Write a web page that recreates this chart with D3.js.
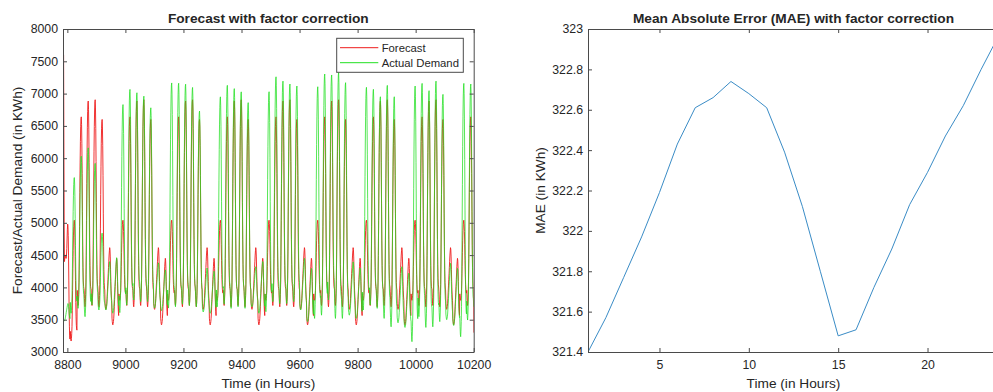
<!DOCTYPE html>
<html><head><meta charset="utf-8">
<script src="https://cdn.jsdelivr.net/npm/d3@7"></script>
<style>
body{margin:0;background:#fff}
svg{display:block}
text{font-family:"Liberation Sans",Arial,Helvetica,sans-serif;fill:#262626}
</style>
</head><body>
<svg id="c" width="993" height="392"></svg>
<script>
// ---------- DATA ----------
const startHour = 8785, endHour = 10200;
// day index k counts 24-hour days from hour 8784; k % 7 === 0 is a Sunday
const actualPeak = [3750,5700,6030,6160,5920,4840,4400,
  4460,6830,7065,7013,6960,6780,4380,
  4270,7165,7160,7145,7095,6730,4300,
  4250,6950,7128,7077,7027,6860,4320,
  4400,7029,7260,7193,7148,7117,4450,
  4295,7106,7303,7288,7324,7169,4395,
  4300,7097,7066,6951,7127,6951,4320,
  4220,7117,7158,7045,7193,6988,4373,
  4295,7158,7148,3700];
const actualLow = [3480,3600,3676,3547,3727,3650,3650,
  3600,3610,3727,3805,3780,3780,3680,
  3640,3680,3700,3740,3720,3700,3620,
  3600,3700,3740,3675,3700,3676,3700,
  3600,3624,3780,3750,3750,3780,3650,
  3470,3520,3570,3805,3520,3520,3570,
  3520,3650,3727,3676,3520,3390,3452,
  3380,3160,3547,3380,3390,3470,3500,
  3410,3237,3495,3700];
const forecastPeak = [4980,5040,6640,6885,6905,6600,4615,
  4450,5040,6640,6885,6905,6600,4615,
  4450,5040,6640,6885,6905,6600,4615,
  4450,5040,6640,6885,6905,6600,4615,
  4450,5040,6640,6885,6905,6600,4615,
  4450,5040,6640,6885,6905,6600,4615,
  4450,5040,6640,6885,6905,6600,4615,
  4450,5040,6640,6885,6905,6600,4615,
  4450,5040,6640,3300];
const forecastLow = [3200,3170,3720,3700,3720,3700,3660,
  3420,3800,3720,3700,3720,3700,3660,
  3420,3800,3720,3700,3720,3700,3660,
  3420,3800,3720,3700,3720,3700,3660,
  3420,3800,3720,3700,3720,3700,3660,
  3420,3800,3720,3700,3720,3700,3660,
  3420,3800,3720,3700,3720,3700,3660,
  3420,3800,3720,3700,3720,3700,3660,
  3420,3800,3720,3300];
// forecast for the first (partial) day, hours 8785..8807
const forecastFirstDay = [7600,6300,5000,4400,4450,4500,4500,4480,4450,4450,4500,4600,
  4750,4900,4980,4950,4800,4500,4100,3700,3400,3250,3200];
// within-day shape (0 = day low, 1 = day peak) by hour of day
const weekdayShape = [0.08,0.04,0.01,0,0.02,0.06,0.12,0.25,0.42,0.6,0.75,0.87,
  0.95,0.99,1,0.96,0.86,0.7,0.5,0.32,0.2,0.13,0.1,0.09];
const weekendShape = [0.1,0.05,0.01,0,0.02,0.05,0.1,0.18,0.28,0.38,0.48,0.58,
  0.68,0.78,0.88,0.95,1,0.97,0.85,0.65,0.45,0.3,0.2,0.14];

const maeHours = [1,2,3,4,5,6,7,8,9,10,11,12,13,14,15,16,17,18,19,20,21,22,23,24];
const maeValues = [321.40,321.57,321.77,321.97,322.19,322.43,322.61,322.66,322.74,322.68,
  322.61,322.39,322.12,321.80,321.48,321.51,321.72,321.91,322.13,322.29,322.47,322.62,322.80,322.97];

const leftXTicks = [8800,9000,9200,9400,9600,9800,10000,10200];
const leftYTicks = [3000,3500,4000,4500,5000,5500,6000,6500,7000,7500,8000];
const rightXTicks = [5,10,15,20];
const rightYTicks = [321.4,321.6,321.8,322,322.2,322.4,322.6,322.8,323];

// ---------- build hourly series ----------
const hours = d3.range(startHour, endHour + 1);
function dayShape(k){ const w = k % 7; return (w === 0 || w === 6) ? weekendShape : weekdayShape; }
const actual = hours.map(t => {
  const k = Math.floor((t - 8784) / 24), h = (t - 8784) % 24;
  return [t, actualLow[k] + (actualPeak[k] - actualLow[k]) * dayShape(k)[h]];
});
const forecast = hours.map(t => {
  const k = Math.floor((t - 8784) / 24), h = (t - 8784) % 24;
  if (k === 0) return [t, forecastFirstDay[h - 1]];
  return [t, forecastLow[k] + (forecastPeak[k] - forecastLow[k]) * dayShape(k)[h]];
});

// ---------- drawing ----------
const svg = d3.select("#c");
svg.append("rect").attr("width",993).attr("height",392).attr("fill","#fff");
const axisColor = "#4a4a4a";
const yTop = 29, yBottom = 352;

function frame(g, x, y, xt, yt, xfmt, yfmt){
  const [x0, x1] = x.range();
  const ax = g.append("g").attr("transform",`translate(0,${yBottom})`)
    .call(d3.axisBottom(x).tickValues(xt).tickSize(-4).tickSizeOuter(0).tickPadding(8.5).tickFormat(xfmt));
  const ay = g.append("g").attr("transform",`translate(${x0},0)`)
    .call(d3.axisLeft(y).tickValues(yt).tickSize(-4).tickSizeOuter(0).tickPadding(5).tickFormat(yfmt));
  const at = g.append("g").attr("transform",`translate(0,${yTop})`)
    .call(d3.axisTop(x).tickValues(xt).tickSize(-4).tickSizeOuter(0).tickFormat(""));
  const ar = g.append("g").attr("transform",`translate(${x1},0)`)
    .call(d3.axisRight(y).tickValues(yt).tickSize(-4).tickSizeOuter(0).tickFormat(""));
  [ax,ay,at,ar].forEach(a=>{
    a.selectAll("path.domain").attr("stroke",axisColor).attr("stroke-width",1);
    a.selectAll(".tick line").attr("stroke",axisColor).attr("stroke-width",1);
    a.selectAll(".tick text").attr("fill","#262626").style("font-size","12.3px")
      .style("font-family",'"Liberation Sans",Arial,sans-serif');
  });
}

// ----- left chart -----
const xL = d3.scaleLinear().domain([startHour, endHour]).range([63.6, 473.7]);
const yL = d3.scaleLinear().domain([3000, 8000]).range([yBottom, yTop]);
const gL = svg.append("g");
svg.append("clipPath").attr("id","clipL").append("rect")
  .attr("x",62).attr("y",yTop).attr("width",473.7-62).attr("height",yBottom-yTop);
const lineL = d3.line().x(d=>xL(d[0])).y(d=>yL(d[1]));
const plotL = gL.append("g").attr("clip-path","url(#clipL)");
plotL.append("path").datum(forecast).attr("d",lineL)
  .attr("fill","none").attr("stroke","#ee1c1c").attr("stroke-width",0.9);
plotL.append("path").datum(actual).attr("d",lineL)
  .attr("fill","none").attr("stroke","#22e022").attr("stroke-width",0.9).attr("stroke-opacity",0.85);
const xLAxis = d3.scaleLinear().domain(xL.domain()).range([63, 473.7]);
frame(gL, xLAxis, yL, leftXTicks, leftYTicks, d3.format("d"), d3.format("d"));

gL.append("text").attr("x",268.3).attr("y",23).attr("text-anchor","middle")
  .style("font-size","13.7px").style("font-weight","bold").attr("fill","#000")
  .text("Forecast with factor correction");
gL.append("text").attr("x",268.3).attr("y",388).attr("text-anchor","middle")
  .style("font-size","13.7px").text("Time (in Hours)");
gL.append("text").attr("transform","translate(22,190.5) rotate(-90)").attr("text-anchor","middle")
  .style("font-size","13.7px").text("Forecast/Actual Demand (in KWh)");

// legend
const lg = gL.append("g");
lg.append("rect").attr("x",336.7).attr("y",38.3).attr("width",126.6).attr("height",34)
  .attr("fill","#fff").attr("stroke",axisColor).attr("stroke-width",1);
const legendItems = [["Forecast","#ee1c1c",47.7,52],["Actual Demand","#22e022",62.7,67]];
legendItems.forEach(([label,color,ly,ty])=>{
  lg.append("line").attr("x1",340).attr("x2",378.3).attr("y1",ly).attr("y2",ly)
    .attr("stroke",color).attr("stroke-width",1);
  lg.append("text").attr("x",381.7).attr("y",ty).style("font-size","11.3px").text(label);
});

// ----- right chart -----
const xR = d3.scaleLinear().domain([1, 24]).range([588, 999]);
const yR = d3.scaleLinear().domain([321.4, 323]).range([yBottom, yTop]);
const gR = svg.append("g");
svg.append("clipPath").attr("id","clipR").append("rect")
  .attr("x",588).attr("y",yTop).attr("width",999-588).attr("height",yBottom-yTop);
gR.append("g").attr("clip-path","url(#clipR)").append("path")
  .datum(maeHours.map((h,i)=>[h,maeValues[i]]))
  .attr("d", d3.line().x(d=>xR(d[0])).y(d=>yR(d[1])))
  .attr("fill","none").attr("stroke","#3a8cc6").attr("stroke-width",1);
frame(gR, xR, yR, rightXTicks, rightYTicks, d3.format("d"), d=>d3.format(".1f")(d).replace(/\.0$/,""));

gR.append("text").attr("x",793.5).attr("y",23).attr("text-anchor","middle")
  .style("font-size","13.7px").style("font-weight","bold").attr("fill","#000")
  .text("Mean Absolute Error (MAE) with factor correction");
gR.append("text").attr("x",793.5).attr("y",388).attr("text-anchor","middle")
  .style("font-size","13.7px").text("Time (in Hours)");
gR.append("text").attr("transform","translate(545,190.5) rotate(-90)").attr("text-anchor","middle")
  .style("font-size","13.7px").text("MAE (in KWh)");
</script>
</body></html>
